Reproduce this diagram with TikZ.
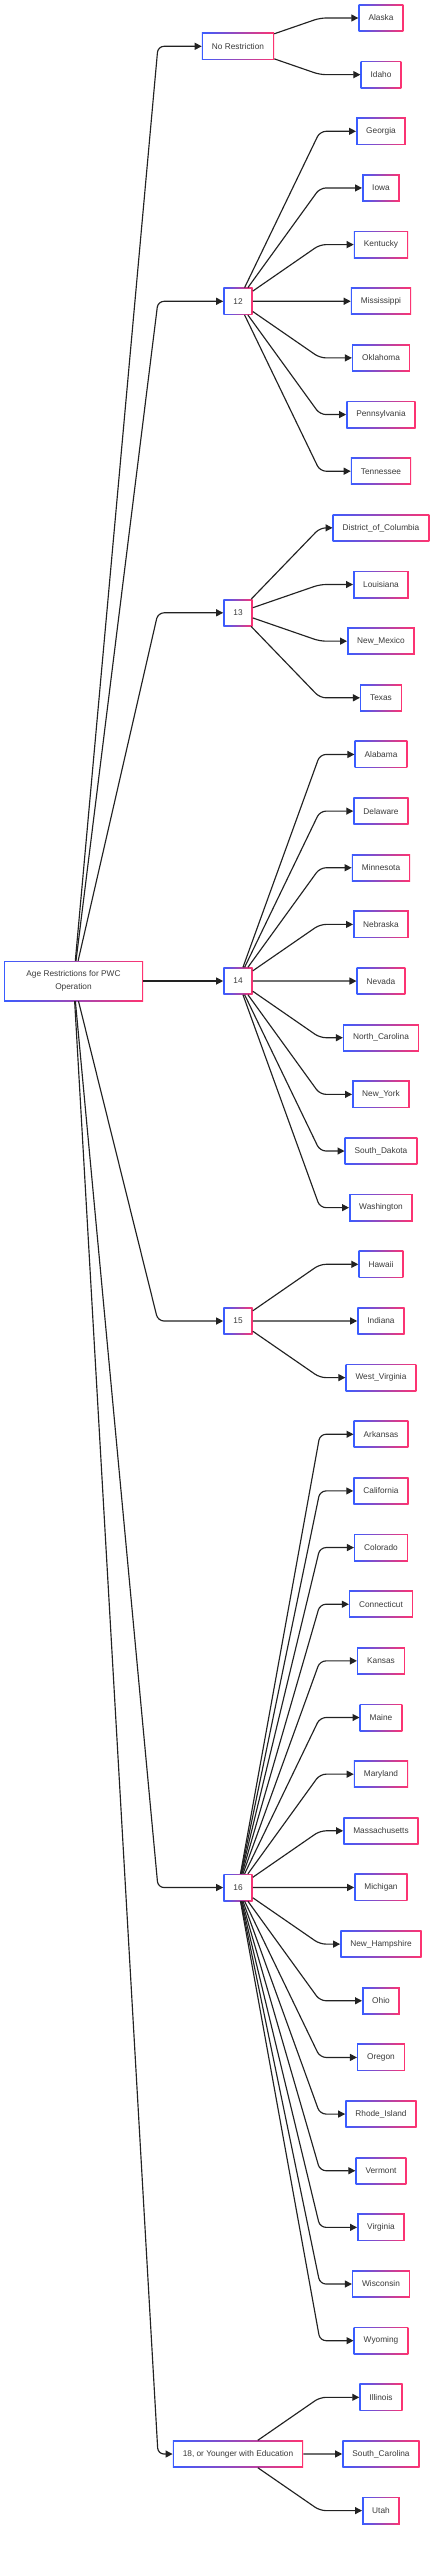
\documentclass[tikz,border=0pt]{standalone}
\usepackage{fontspec}
\setmainfont{Liberation Sans}
\usepackage{tikz}
\usetikzlibrary{positioning,calc,arrows.meta,shadings}
\definecolor{nblue}{HTML}{3A5CFF}
\definecolor{npink}{HTML}{FF3370}
\definecolor{ntext}{HTML}{3A3A3A}
\definecolor{nline}{HTML}{222222}
\tikzset{
  % --- nodes
  box/.style   = {rectangle, left color=nblue, right color=npink, text=ntext,
                  minimum height=27pt, inner xsep=10pt, inner ysep=0pt,
                  font=\fontsize{8.3}{12.7}\selectfont,
                  path picture={\fill[white]
                    ([shift={(1.3pt,1.3pt)}]path picture bounding box.south west) rectangle
                    ([shift={(-1.3pt,-1.3pt)}]path picture bounding box.north east);}},
  top/.style   = {box, minimum width=139pt, minimum height=40pt, align=center},
  age/.style   = {box},
  state/.style = {box},
  % --- edges
  e/.style     = {-{Triangle[length=7pt,width=7pt]}, line width=1.15pt, draw=nline,
                  rounded corners=6pt},
}
\begin{document}
\begin{tikzpicture}[x=1pt,y=-1pt]
  \useasboundingbox (0,0) rectangle (439,2560);
  \coordinate (rootbend) at (158,0);
  \coordinate (leafbend) at (320,0);

  \node[top] (root) at (73.5,981) {Age Restrictions for PWC\\Operation};

  \node[age] (nores) at (238,46.3)   {No Restriction};
  \node[age] (a12)   at (238,301.3)  {12};
  \node[age] (a13)   at (238,612.8)  {13};
  \node[age] (a14)   at (238,981)    {14};
  \node[age] (a15)   at (238,1321)   {15};
  \node[age] (a16)   at (238,1887.5) {16};
  \node[age] (a18)   at (238,2454)   {18, or Younger with Education};

  \foreach \lbl [count=\i from 0] in {Alaska, Idaho,
      Georgia, Iowa, Kentucky, Mississippi, Oklahoma, Pennsylvania, Tennessee,
      District\_of\_Columbia, Louisiana, New\_Mexico, Texas,
      Alabama, Delaware, Minnesota, Nebraska, Nevada, North\_Carolina, New\_York,
      South\_Dakota, Washington,
      Hawaii, Indiana, West\_Virginia,
      Arkansas, California, Colorado, Connecticut, Kansas, Maine, Maryland,
      Massachusetts, Michigan, New\_Hampshire, Ohio, Oregon, Rhode\_Island,
      Vermont, Virginia, Wisconsin, Wyoming,
      Illinois, South\_Carolina, Utah}
    \node[state] (leaf\i) at (381,{18+56.65*\i}) {\lbl};

  % root to ages
  \foreach \g in {nores,a12,a13,a14,a15,a16,a18}
    \draw[e] (root) -- (rootbend |- \g) -- (\g);

  % ages to states
  \foreach \g/\first/\last in {nores/0/1, a12/2/8, a13/9/12, a14/13/21,
                               a15/22/24, a16/25/41, a18/42/44}
    \foreach \i in {\first,...,\last}
      \draw[e] (\g) -- (leafbend |- leaf\i) -- (leaf\i);
\end{tikzpicture}
\end{document}
